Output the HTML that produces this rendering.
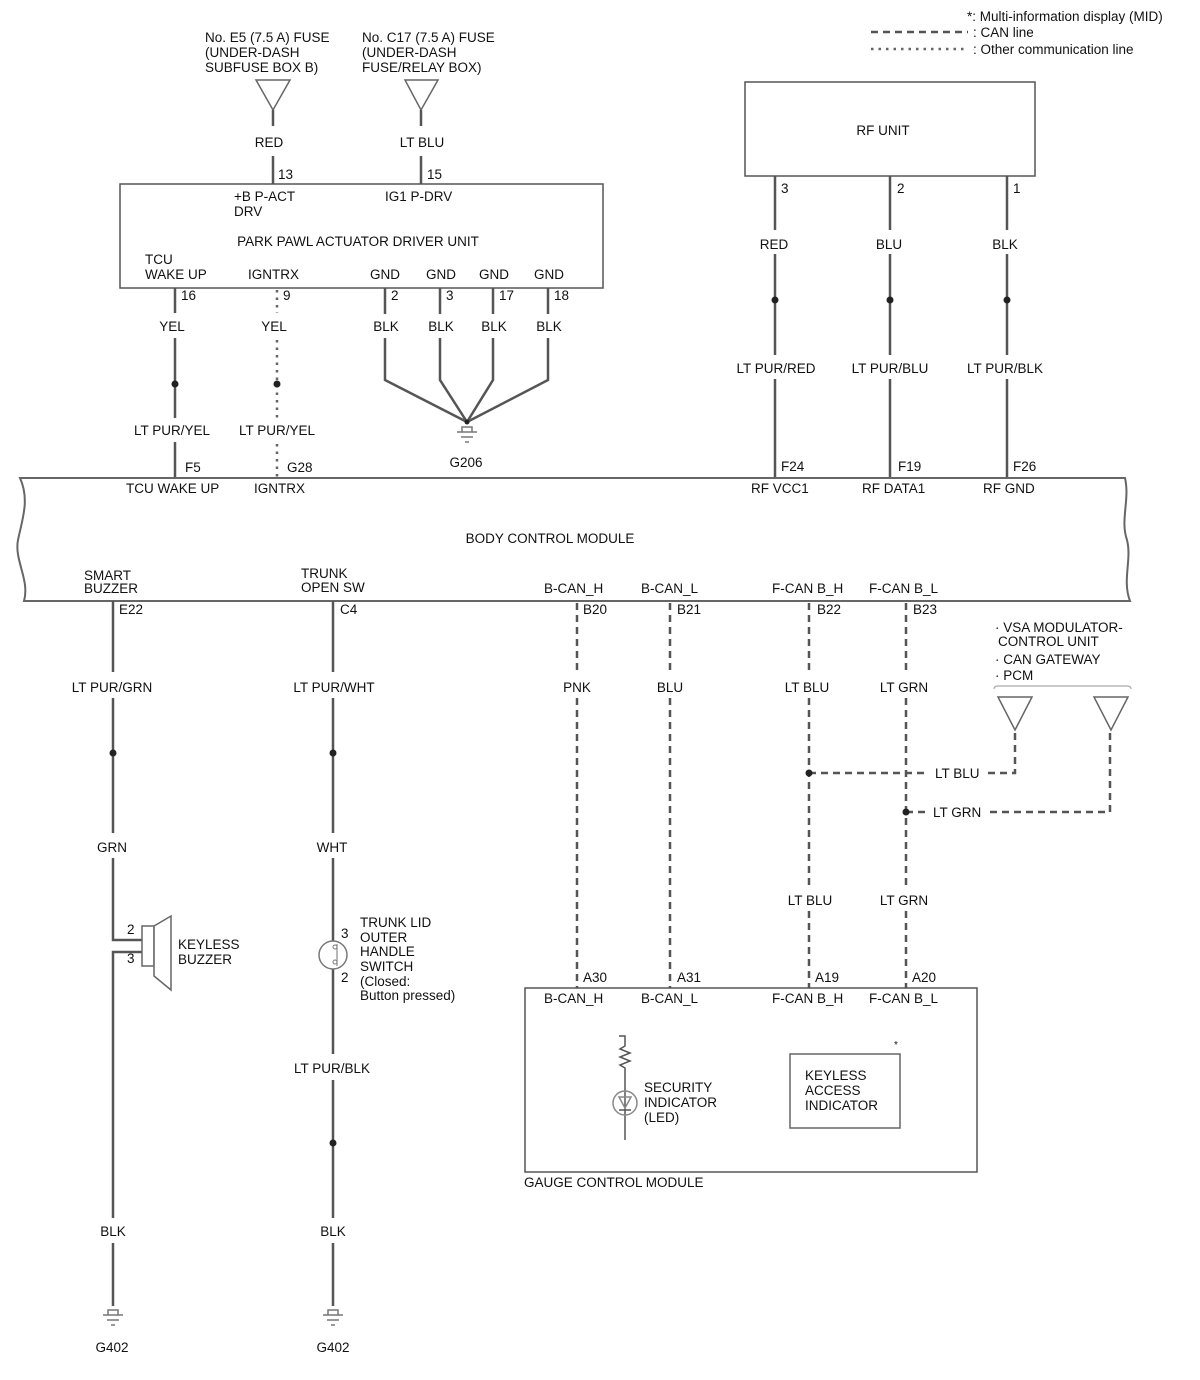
<!DOCTYPE html>
<html><head><meta charset="utf-8"><style>
html,body{margin:0;padding:0;background:#fff}
svg{display:block}
text{font-family:"Liberation Sans",Arial,sans-serif;font-size:13.5px;fill:#111}
.w{stroke:#555;stroke-width:2.5;fill:none}
.d{stroke:#555;stroke-width:2.5;fill:none;stroke-dasharray:7,5}
.o{stroke:#666;stroke-width:2.5;fill:none;stroke-dasharray:2.5,5}
.b{stroke:#555;stroke-width:1.5;fill:none}
.t{stroke:#666;stroke-width:1.5;fill:#fff}
.m{text-anchor:middle}
</style></head><body>
<svg width="1200" height="1380" viewBox="0 0 1200 1380">
<text x="967" y="21">*: Multi-information display (MID)</text>
<line x1="871" y1="32" x2="968" y2="32" class="d" stroke-width="2"/>
<text x="973" y="37">: CAN line</text>
<line x1="871" y1="49" x2="968" y2="49" class="o" stroke-width="2"/>
<text x="973" y="54">: Other communication line</text>

<text x="205" y="42">No. E5 (7.5 A) FUSE</text>
<text x="205" y="57">(UNDER-DASH</text>
<text x="205" y="72">SUBFUSE BOX B)</text>
<text x="362" y="42">No. C17 (7.5 A) FUSE</text>
<text x="362" y="57">(UNDER-DASH</text>
<text x="362" y="72">FUSE/RELAY BOX)</text>
<polygon points="256,80 290,80 273,110" class="t"/>
<polygon points="405,80 438,80 421,110" class="t"/>
<line x1="273" y1="110" x2="273" y2="126" class="w"/>
<line x1="421" y1="110" x2="421" y2="126" class="w"/>
<text x="269" y="147" class="m">RED</text>
<text x="422" y="147" class="m">LT BLU</text>
<line x1="273" y1="156" x2="273" y2="184" class="w"/>
<line x1="421" y1="156" x2="421" y2="184" class="w"/>
<text x="278" y="179">13</text>
<text x="427" y="179">15</text>

<rect x="120" y="184" width="483" height="104" class="b"/>
<text x="234" y="201">+B P-ACT</text>
<text x="234" y="216">DRV</text>
<text x="385" y="201">IG1 P-DRV</text>
<text x="358" y="246" class="m">PARK PAWL ACTUATOR DRIVER UNIT</text>
<text x="145" y="264">TCU</text>
<text x="145" y="279">WAKE UP</text>
<text x="248" y="279">IGNTRX</text>
<text x="385" y="279" class="m">GND</text>
<text x="441" y="279" class="m">GND</text>
<text x="494" y="279" class="m">GND</text>
<text x="549" y="279" class="m">GND</text>

<text x="181" y="300">16</text>
<text x="283" y="300">9</text>
<text x="391" y="300">2</text>
<text x="446" y="300">3</text>
<text x="499" y="300">17</text>
<text x="554" y="300">18</text>

<line x1="175" y1="288" x2="175" y2="313" class="w"/>
<line x1="175" y1="338" x2="175" y2="418" class="w"/>
<line x1="175" y1="442" x2="175" y2="478" class="w"/>
<circle cx="175" cy="384" r="3.5" fill="#222"/>
<text x="172" y="331" class="m">YEL</text>
<text x="172" y="435" class="m">LT PUR/YEL</text>
<text x="185" y="472">F5</text>

<line x1="277" y1="290" x2="277" y2="313" class="o"/>
<line x1="277" y1="340" x2="277" y2="418" class="o"/>
<line x1="277" y1="444" x2="277" y2="478" class="o"/>
<circle cx="277" cy="384" r="3.5" fill="#222"/>
<text x="274" y="331" class="m">YEL</text>
<text x="277" y="435" class="m">LT PUR/YEL</text>
<text x="287" y="472">G28</text>

<g class="w">
<line x1="385" y1="288" x2="385" y2="314"/>
<line x1="440" y1="288" x2="440" y2="314"/>
<line x1="493" y1="288" x2="493" y2="314"/>
<line x1="548" y1="288" x2="548" y2="314"/>
<polyline points="385,338 385,380 467,422"/>
<polyline points="440,338 440,380 467,422"/>
<polyline points="493,338 493,380 467,422"/>
<polyline points="548,338 548,380 467,422"/>
</g>
<text x="386" y="331" class="m">BLK</text>
<text x="441" y="331" class="m">BLK</text>
<text x="494" y="331" class="m">BLK</text>
<text x="549" y="331" class="m">BLK</text>
<circle cx="467" cy="422" r="2.5" fill="#222"/>
<g stroke="#777" stroke-width="1.5" fill="none">
<path d="M462,432 v-5 h10 v5"/>
<line x1="457" y1="432" x2="477" y2="432"/>
<line x1="461" y1="437" x2="473" y2="437"/>
<line x1="465" y1="442" x2="469" y2="442"/>
</g>
<text x="466" y="467" class="m">G206</text>

<rect x="745" y="82" width="290" height="94" class="b"/>
<text x="883" y="135" class="m">RF UNIT</text>
<text x="781" y="193">3</text>
<text x="897" y="193">2</text>
<text x="1013" y="193">1</text>
<g class="w">
<line x1="775" y1="176" x2="775" y2="230"/><line x1="775" y1="254" x2="775" y2="355"/><line x1="775" y1="379" x2="775" y2="478"/>
<line x1="890" y1="176" x2="890" y2="230"/><line x1="890" y1="254" x2="890" y2="355"/><line x1="890" y1="379" x2="890" y2="478"/>
<line x1="1007" y1="176" x2="1007" y2="230"/><line x1="1007" y1="254" x2="1007" y2="355"/><line x1="1007" y1="379" x2="1007" y2="478"/>
</g>
<circle cx="775" cy="300" r="3.5" fill="#222"/>
<circle cx="890" cy="300" r="3.5" fill="#222"/>
<circle cx="1007" cy="300" r="3.5" fill="#222"/>
<text x="774" y="249" class="m">RED</text>
<text x="889" y="249" class="m">BLU</text>
<text x="1005" y="249" class="m">BLK</text>
<text x="776" y="373" class="m">LT PUR/RED</text>
<text x="890" y="373" class="m">LT PUR/BLU</text>
<text x="1005" y="373" class="m">LT PUR/BLK</text>
<text x="781" y="471">F24</text>
<text x="898" y="471">F19</text>
<text x="1013" y="471">F26</text>

<path d="M20,478 H1125 C1130,500 1120,520 1127,540 C1132,560 1122,580 1130,601 H24 C30,580 14,560 18,540 C22,520 30,500 20,478 Z" stroke="#666" stroke-width="2" fill="#fff"/>
<text x="126" y="493">TCU WAKE UP</text>
<text x="254" y="493">IGNTRX</text>
<text x="751" y="493">RF VCC1</text>
<text x="862" y="493">RF DATA1</text>
<text x="983" y="493">RF GND</text>
<text x="550" y="543" class="m">BODY CONTROL MODULE</text>
<text x="84" y="580">SMART</text>
<text x="84" y="593">BUZZER</text>
<text x="301" y="578">TRUNK</text>
<text x="301" y="592">OPEN SW</text>
<text x="544" y="593">B-CAN_H</text>
<text x="641" y="593">B-CAN_L</text>
<text x="772" y="593">F-CAN B_H</text>
<text x="869" y="593">F-CAN B_L</text>
<text x="119" y="614">E22</text>
<text x="340" y="614">C4</text>
<text x="583" y="614">B20</text>
<text x="677" y="614">B21</text>
<text x="817" y="614">B22</text>
<text x="913" y="614">B23</text>

<g class="w">
<line x1="113" y1="601" x2="113" y2="672"/>
<line x1="113" y1="698" x2="113" y2="833"/>
<polyline points="113,858 113,940 142,940"/>
<polyline points="142,952 113,952 113,1218"/>
<line x1="113" y1="1243" x2="113" y2="1306"/>
</g>
<circle cx="113" cy="753" r="3.5" fill="#222"/>
<text x="112" y="692" class="m">LT PUR/GRN</text>
<text x="112" y="852" class="m">GRN</text>
<text x="127" y="934">2</text>
<text x="127" y="963">3</text>
<rect x="142" y="926" width="12" height="40" class="t" stroke-width="2"/>
<polygon points="154,926 171,916 171,990 154,976 154,966" class="t" stroke-width="2"/>
<line x1="154" y1="926" x2="154" y2="966" stroke="#777" stroke-width="1.5"/>
<text x="178" y="949">KEYLESS</text>
<text x="178" y="964">BUZZER</text>
<text x="113" y="1236" class="m">BLK</text>
<g stroke="#777" stroke-width="1.5" fill="none">
<path d="M108,1315 v-5 h10 v5"/><line x1="103" y1="1315" x2="123" y2="1315"/><line x1="107" y1="1320" x2="119" y2="1320"/><line x1="111" y1="1325" x2="115" y2="1325"/>
</g>
<text x="112" y="1352" class="m">G402</text>

<g class="w">
<line x1="333" y1="601" x2="333" y2="672"/>
<line x1="333" y1="698" x2="333" y2="833"/>
<line x1="333" y1="858" x2="333" y2="942"/>
<line x1="333" y1="968" x2="333" y2="1054"/>
<line x1="333" y1="1080" x2="333" y2="1218"/>
<line x1="333" y1="1243" x2="333" y2="1306"/>
</g>
<circle cx="333" cy="753" r="3.5" fill="#222"/>
<circle cx="333" cy="1143" r="3.5" fill="#222"/>
<circle cx="333" cy="955" r="14" stroke="#777" stroke-width="1.5" fill="#fff"/>
<circle cx="335" cy="947" r="2" stroke="#777" fill="none"/>
<circle cx="335" cy="962" r="2" stroke="#777" fill="none"/>
<line x1="337" y1="944" x2="337" y2="966" stroke="#888" stroke-width="1.2"/>
<text x="334" y="692" class="m">LT PUR/WHT</text>
<text x="332" y="852" class="m">WHT</text>
<text x="341" y="938">3</text>
<text x="341" y="982">2</text>
<text x="360" y="927">TRUNK LID</text>
<text x="360" y="942">OUTER</text>
<text x="360" y="956">HANDLE</text>
<text x="360" y="971">SWITCH</text>
<text x="360" y="986">(Closed:</text>
<text x="360" y="1000">Button pressed)</text>
<text x="332" y="1073" class="m">LT PUR/BLK</text>
<text x="333" y="1236" class="m">BLK</text>
<g stroke="#777" stroke-width="1.5" fill="none">
<path d="M328,1315 v-5 h10 v5"/><line x1="323" y1="1315" x2="343" y2="1315"/><line x1="327" y1="1320" x2="339" y2="1320"/><line x1="331" y1="1325" x2="335" y2="1325"/>
</g>
<text x="333" y="1352" class="m">G402</text>

<g class="d">
<line x1="577" y1="603" x2="577" y2="673"/><line x1="577" y1="698" x2="577" y2="988"/>
<line x1="670" y1="603" x2="670" y2="673"/><line x1="670" y1="698" x2="670" y2="988"/>
<line x1="809" y1="603" x2="809" y2="673"/><line x1="809" y1="698" x2="809" y2="886"/><line x1="809" y1="911" x2="809" y2="988"/>
<line x1="906" y1="603" x2="906" y2="673"/><line x1="906" y1="698" x2="906" y2="886"/><line x1="906" y1="911" x2="906" y2="988"/>
<line x1="809" y1="773" x2="928" y2="773"/>
<polyline points="988,773 1015,773 1015,730"/>
<line x1="906" y1="812" x2="928" y2="812"/>
<polyline points="990,812 1110,812 1110,730"/>
</g>
<circle cx="809" cy="773" r="3.5" fill="#222"/>
<circle cx="906" cy="812" r="3.5" fill="#222"/>
<text x="577" y="692" class="m">PNK</text>
<text x="670" y="692" class="m">BLU</text>
<text x="807" y="692" class="m">LT BLU</text>
<text x="904" y="692" class="m">LT GRN</text>
<text x="935" y="778">LT BLU</text>
<text x="933" y="817">LT GRN</text>
<text x="810" y="905" class="m">LT BLU</text>
<text x="904" y="905" class="m">LT GRN</text>

<text x="995" y="632">· VSA MODULATOR-</text>
<text x="998" y="646">CONTROL UNIT</text>
<text x="995" y="664">· CAN GATEWAY</text>
<text x="995" y="680">· PCM</text>
<path d="M994,689 q0,-3 4,-3 H1127 q4,0 4,3" stroke="#aaa" stroke-width="1.2" fill="none"/>
<polygon points="998,697 1032,697 1015,730" class="t"/>
<polygon points="1094,697 1128,697 1111,730" class="t"/>

<rect x="525" y="988" width="452" height="184" class="b"/>
<text x="583" y="982">A30</text>
<text x="677" y="982">A31</text>
<text x="815" y="982">A19</text>
<text x="912" y="982">A20</text>
<text x="544" y="1003">B-CAN_H</text>
<text x="641" y="1003">B-CAN_L</text>
<text x="772" y="1003">F-CAN B_H</text>
<text x="869" y="1003">F-CAN B_L</text>
<g stroke="#555" stroke-width="1.5" fill="none">
<path d="M619,1036 h6 v10 l-5,3 l10,4 l-10,4 l10,4 l-10,4 l5,3 v8"/>
<line x1="625" y1="1076" x2="625" y2="1140"/>
<circle cx="625" cy="1103" r="12" stroke="#888"/>
<polygon points="619,1097 631,1097 625,1108" stroke="#888"/>
<line x1="619" y1="1110" x2="631" y2="1110"/>
</g>
<text x="644" y="1092">SECURITY</text>
<text x="644" y="1107">INDICATOR</text>
<text x="644" y="1122">(LED)</text>
<rect x="790" y="1054" width="110" height="74" stroke="#666" stroke-width="1.5" fill="none"/>
<text x="805" y="1080">KEYLESS</text>
<text x="805" y="1095">ACCESS</text>
<text x="805" y="1110">INDICATOR</text>
<text x="894" y="1048" style="font-size:10px">*</text>
<text x="524" y="1187">GAUGE CONTROL MODULE</text>
</svg>
</body></html>
